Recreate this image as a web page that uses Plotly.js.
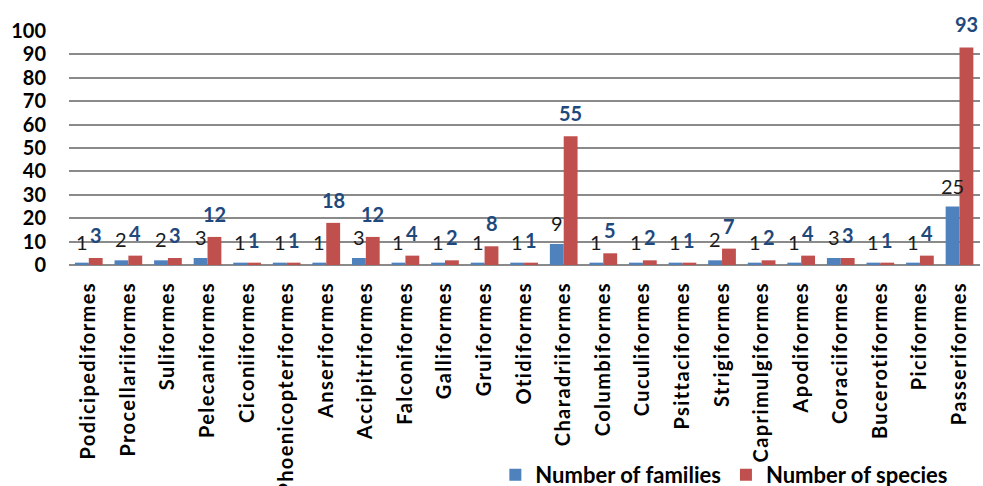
<!DOCTYPE html>
<html>
<head>
<meta charset="utf-8">
<script src="https://cdn.plot.ly/plotly-3.0.1.min.js"></script>
<style>
  html, body { margin: 0; padding: 0; background: #fff; }
  #chart { width: 983px; height: 486px; }
  /* slightly wider tracking for the rotated order names */
  #chart .xtick text { letter-spacing: 1.4px; }
</style>
</head>
<body>
<div id="chart"></div>
<script>
// Bird orders with their counts of families and species
const orders = [
  "Podicipediformes", "Procellariiformes", "Suliformes", "Pelecaniformes",
  "Ciconiiformes", "Phoenicopteriformes", "Anseriformes", "Accipitriformes",
  "Falconiformes", "Galliformes", "Gruiformes", "Otidiformes",
  "Charadriiformes", "Columbiformes", "Cuculiformes", "Psittaciformes",
  "Strigiformes", "Caprimulgiformes", "Apodiformes", "Coraciiformes",
  "Bucerotiformes", "Piciformes", "Passeriformes"
];
const families = [1, 2, 2, 3, 1, 1, 1, 3, 1, 1, 1, 1, 9, 1, 1, 1, 2, 1, 1, 3, 1, 1, 25];
const species  = [3, 4, 3, 12, 1, 1, 18, 12, 4, 2, 8, 1, 55, 5, 2, 1, 7, 2, 4, 3, 1, 4, 93];
const yTicks = [0, 10, 20, 30, 40, 50, 60, 70, 80, 90, 100];

const FONT = "Lato, 'Open Sans', sans-serif";
const BLUE = "#4F81BD";
const RED = "#C0504D";

const traces = [
  {
    type: "bar",
    name: "Number of families",
    x: orders,
    y: families,
    marker: { color: BLUE },
    hoverinfo: "x+y"
  },
  {
    type: "bar",
    name: "Number of species",
    x: orders,
    y: species,
    marker: { color: RED },
    hoverinfo: "x+y"
  }
];

// Value labels above each bar; each bar sits half a bar-width off the category centre
const BAR_HALF = 7;
const annotations = [];
orders.forEach((o, i) => {
  annotations.push({
    x: o, y: families[i], xref: "x", yref: "y",
    text: String(families[i]),
    showarrow: false, xanchor: "center", yanchor: "middle",
    xshift: -BAR_HALF, yshift: 21,
    font: { family: FONT, size: 20, color: "#1a1a1a" }
  });
  annotations.push({
    x: o, y: species[i], xref: "x", yref: "y",
    text: String(species[i]),
    showarrow: false, xanchor: "center", yanchor: "middle",
    xshift: BAR_HALF, yshift: 23,
    font: { family: FONT, size: 20, color: "#1F497D", weight: "bold" }
  });
});

const layout = {
  width: 983,
  height: 486,
  margin: { l: 69, r: 3, t: 31, b: 221, autoexpand: false },
  paper_bgcolor: "#ffffff",
  plot_bgcolor: "#ffffff",
  barmode: "group",
  bargap: 0.3,
  bargroupgap: 0,
  font: { family: FONT, color: "#000" },
  annotations: annotations,
  showlegend: true,
  legend: {
    orientation: "h",
    x: 0.468,
    xanchor: "left",
    y: -0.897,
    yanchor: "middle",
    font: { family: FONT, size: 22, weight: "bold", color: "#000" },
    itemwidth: 30,
    bgcolor: "rgba(0,0,0,0)"
  },
  xaxis: {
    type: "category",
    tickangle: -90,
    tickfont: { family: FONT, size: 20, weight: "bold", color: "#000" },
    showgrid: false,
    showline: false,
    ticks: "",
    ticklabelstandoff: 12,
    automargin: false
  },
  yaxis: {
    range: [0, 100],
    tickvals: yTicks,
    ticktext: yTicks.map(String),
    tickfont: { family: FONT, size: 20, weight: "bold", color: "#000" },
    showgrid: true,
    gridcolor: "#8a8a8a",
    gridwidth: 2,
    zeroline: true,
    zerolinecolor: "#8a8a8a",
    zerolinewidth: 2,
    showline: false,
    ticks: "",
    ticklabelstandoff: 22,
    automargin: false
  }
};

Plotly.newPlot("chart", traces, layout, { displayModeBar: false });
</script>
</body>
</html>
